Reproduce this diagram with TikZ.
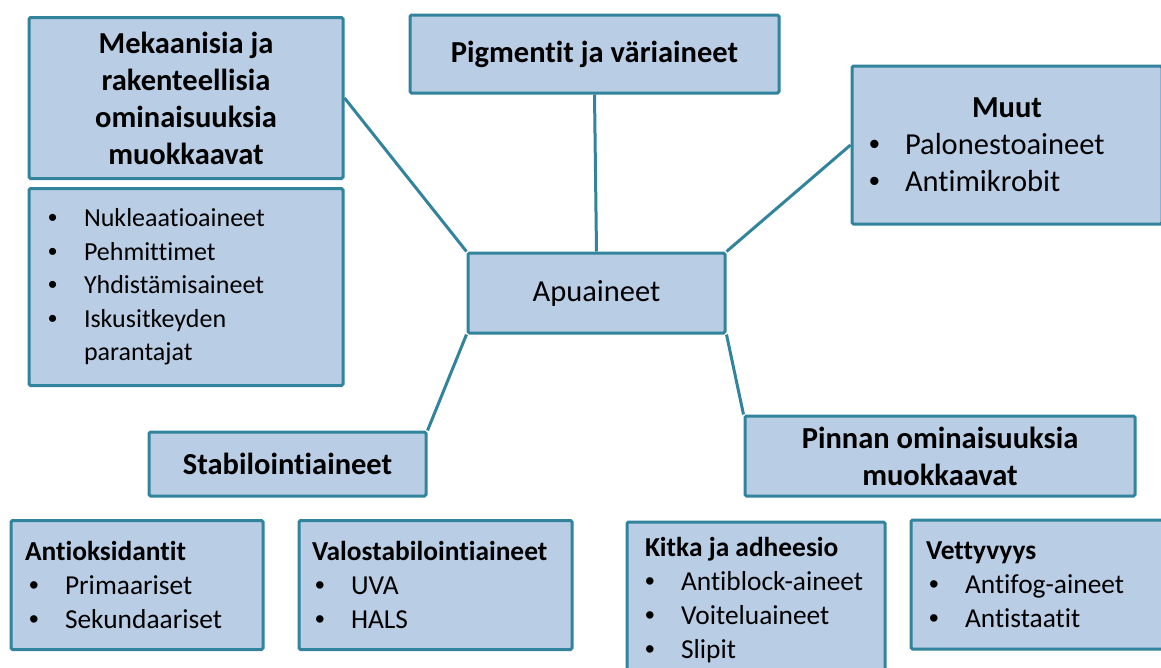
\documentclass[tikz,border=0pt]{standalone}
\usepackage{fontspec}
\setmainfont{Carlito}[Ligatures=CommonOff]
\newfontfamily\bulfont{Liberation Sans}
\definecolor{boxfill}{HTML}{B9CDE5}
\definecolor{boxline}{HTML}{31849B}
\newcommand\bul[1]{\makebox[36pt][l]{\bulfont\mdseries\textbullet}#1}
\newcommand\bigfont{\fontsize{30.5pt}{37pt}\selectfont}
\newcommand\smallfont{\fontsize{27.4pt}{34pt}\selectfont}
\newcommand\nukfont{\fontsize{26pt}{33.5pt}\selectfont}
\tikzset{
  box/.style={draw=boxline, fill=boxfill, line width=3pt, rounded corners=1.5pt,
    inner ysep=0pt, anchor=center},
  conn/.style={draw=boxline, line width=3pt},
}
\begin{document}
\begin{tikzpicture}[x=1pt,y=-1pt]
\useasboundingbox (0,0) rectangle (1161,667);
\fill[white] (0,0) rectangle (1161,667);

\node[box, minimum width=314pt, minimum height=161pt, align=center, font=\bigfont\bfseries]
  (mek) at (186,98) {Mekaanisia ja\\rakenteellisia\\ominaisuuksia\\muokkaavat};
\node[box, minimum width=314pt, minimum height=197pt, inner xsep=19pt, text width=276pt, align=flush left, font=\nukfont]
  (nuk) at (186,287) {\bul{Nukleaatioaineet}\\\bul{Pehmittimet}\\\bul{Yhdistämisaineet}\\\bul{Iskusitkeyden}\\\hspace*{36pt}parantajat};
\node[box, minimum width=369pt, minimum height=78pt, align=center, font=\bigfont\bfseries]
  (pig) at (594.5,54) {Pigmentit ja väriaineet};
\node[box, minimum width=257pt, minimum height=80pt, align=center, font=\bigfont]
  (apu) at (596.5,293) {Apuaineet};
\node[box, minimum width=310pt, minimum height=158pt, inner xsep=17pt, text width=276pt, align=flush left, font=\bigfont]
  (muut) at (1007,145) {\makebox[276pt]{\bfseries Muut}\\\bul{Palonestoaineet}\\\bul{Antimikrobit}};
\node[box, minimum width=277pt, minimum height=64pt, align=center, font=\bigfont\bfseries]
  (stab) at (287.5,464) {Stabilointiaineet};
\node[box, minimum width=390pt, minimum height=80pt, align=center, font=\bigfont\bfseries]
  (pin) at (940,456) {Pinnan ominaisuuksia\\muokkaavat};
\node[box, minimum width=252pt, minimum height=129pt, inner xsep=18pt, text width=216pt, align=flush left, font=\smallfont]
  (aox) at (137,585) {\hspace*{-4pt}\textbf{Antioksidantit}\\\bul{Primaariset}\\\bul{Sekundaariset}};
\node[box, minimum width=273pt, minimum height=129pt, inner xsep=16pt, text width=241pt, align=flush left, font=\smallfont]
  (valo) at (435.5,585) {\hspace*{-3pt}\textbf{Valostabilointiaineet}\\\bul{UVA}\\\bul{HALS}};
\node[box, minimum width=258pt, minimum height=156pt, inner xsep=18pt, text width=222pt, align=flush left, font=\smallfont]
  (kit) at (756,600) {\textbf{Kitka ja adheesio}\\\bul{Antiblock-aineet}\\\bul{Voiteluaineet}\\\bul{Slipit}};
\node[box, minimum width=260pt, minimum height=129pt, inner xsep=18pt, text width=224pt, align=flush left, font=\smallfont]
  (vet) at (1041,584.5) {\hspace*{-3pt}\textbf{Vettyvyys}\\\bul{Antifog-aineet}\\\bul{Antistaatit}};

\draw[conn] (mek.east) -- (apu.north west);
\draw[conn] (pig.south) -- (apu.north);
\draw[conn] (muut.west) -- (apu.north east);
\draw[conn] (apu.south west) -- (stab.north east);
\draw[conn] (apu.south east) -- (pin.north west);
\end{tikzpicture}
\end{document}
